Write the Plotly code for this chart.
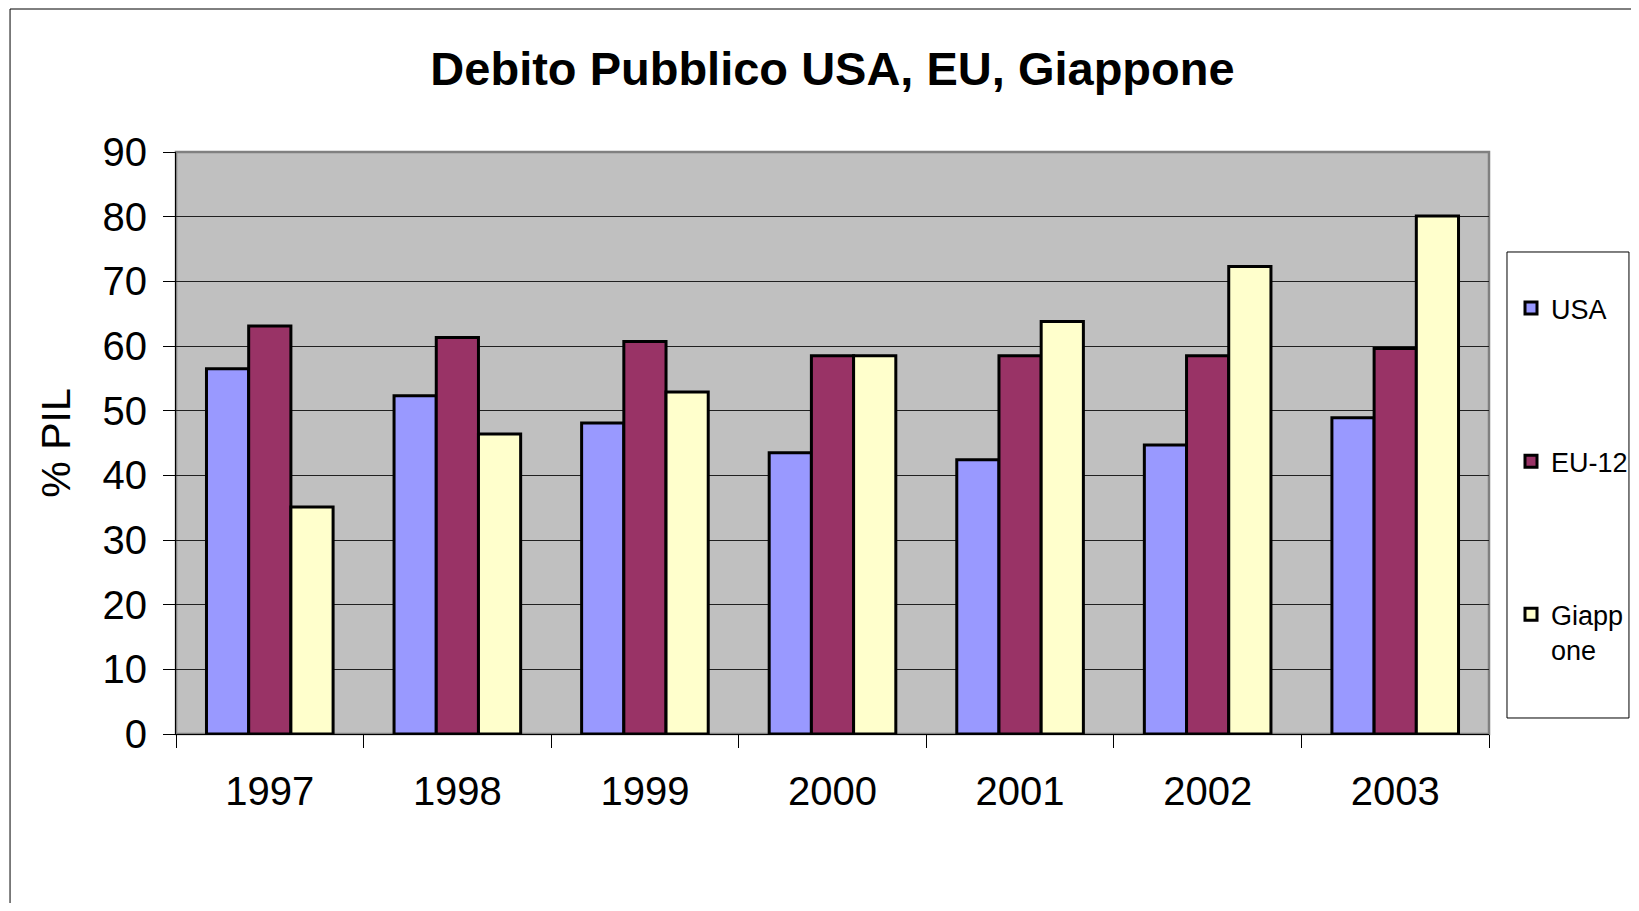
import plotly.graph_objects as go

# ── Data ─────────────────────────────────────────────────────────────────────
YEARS = ["1997", "1998", "1999", "2000", "2001", "2002", "2003"]
USA = [56.5, 52.3, 48.1, 43.5, 42.4, 44.7, 48.9]
EU12 = [63.1, 61.3, 60.7, 58.5, 58.5, 58.5, 59.6]
GIAPPONE = [35.1, 46.4, 52.9, 58.5, 63.8, 72.3, 80.1]

SERIES = [
    ("USA", USA, "#9999FF"),
    ("EU-12", EU12, "#993366"),
    ("Giapp<br>one", GIAPPONE, "#FFFFCC"),
]

SANS = "Liberation Sans, Arial, sans-serif"

# the page body adds an 8px margin on every side, keep the figure inside the window
W, H = 1631, 895

fig = go.Figure()
for name, vals, color in SERIES:
    fig.add_trace(go.Bar(
        x=YEARS, y=vals, name=name, legendgroup=name,
        marker=dict(color=color, line=dict(color="black", width=3)),
    ))

fig.update_layout(
    width=W, height=H,
    paper_bgcolor="white",
    plot_bgcolor="#C0C0C0",
    barmode="group", bargap=0.325, bargroupgap=0,
    margin=dict(l=168, r=150, t=144, b=169),
    title=dict(text="<b>Debito Pubblico USA, EU, Giappone</b>",
               x=0.5, xref="paper", y=1 - 61 / H, yanchor="middle",
               font=dict(family=SANS, size=47, color="black")),
    xaxis=dict(
        showgrid=False, showline=True, linecolor="black", linewidth=1,
        ticks="outside", tickson="boundaries", ticklen=13, tickcolor="black",
        tickfont=dict(family=SANS, size=40, color="black"),
        ticklabelstandoff=22,
    ),
    yaxis=dict(
        range=[0, 90], dtick=10,
        showgrid=True, gridcolor="#202020", gridwidth=1,
        zeroline=False,
        showline=True, linecolor="black", linewidth=1,
        ticks="outside", ticklen=12, tickcolor="black",
        tickfont=dict(family=SANS, size=40, color="black"),
        ticklabelstandoff=8,
        title=dict(text="% PIL", standoff=19,
                   font=dict(family=SANS, size=41, color="black")),
    ),
    legend=dict(
        xref="container", yref="container",
        x=1503 / W, y=1 - 276 / H, xanchor="left", yanchor="top",
        bgcolor="rgba(0,0,0,0)", borderwidth=0,
        font=dict(family=SANS, size=27, color="black"),
        traceorder="grouped", tracegroupgap=115, valign="top",
    ),
    shapes=[
        # grey plot-area border (top / right edges)
        dict(type="rect", xref="paper", yref="paper", x0=0, x1=1, y0=0, y1=1,
             line=dict(color="#808080", width=2.5), layer="below"),
        # legend frame
        dict(type="rect", xref="paper", yref="paper",
             x0=1.0137, x1=1.1066, y0=0.0275, y1=0.8282,
             line=dict(color="black", width=1), fillcolor="white", layer="below"),
        # outer chart border, runs off the right and bottom of the picture
        dict(type="rect", xref="paper", yref="paper",
             x0=-0.1264, x1=1.2, y0=-0.5, y1=1.2457,
             line=dict(color="black", width=1)),
    ],
)

fig.write_html("out.html")
